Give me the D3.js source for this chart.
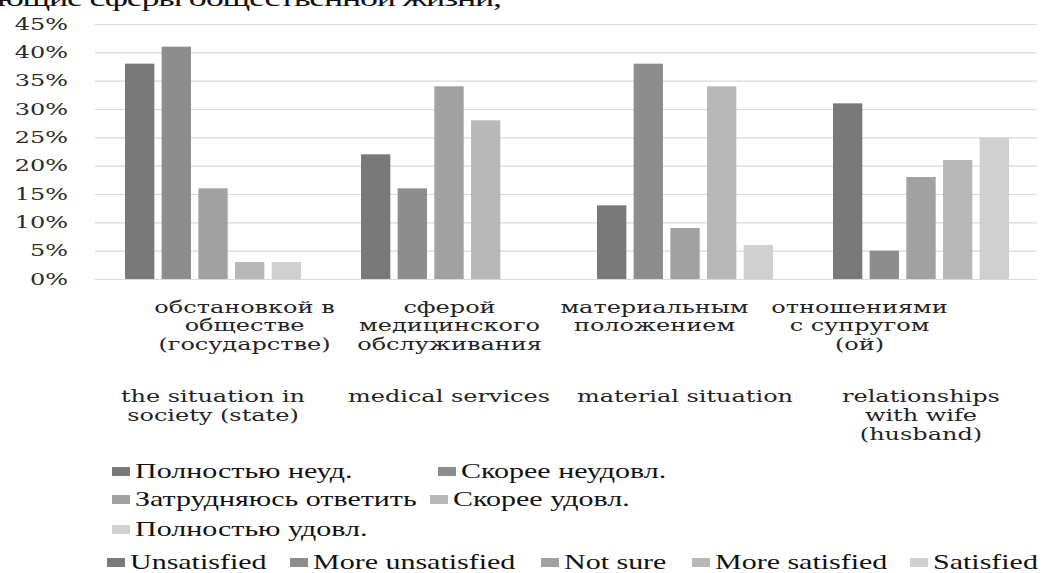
<!DOCTYPE html>
<html>
<head>
<meta charset="utf-8">
<script src="https://cdnjs.cloudflare.com/ajax/libs/d3/7.8.5/d3.min.js"></script>
<style>
  body { margin: 0; background: #fff; }
  svg { display: block; }
</style>
</head>
<body>
<div class="chart"></div>
<script>
// ---- data ----
var categoriesRu = [
  ["обстановкой в", "обществе", "(государстве)"],
  ["сферой", "медицинского", "обслуживания"],
  ["материальным", "положением"],
  ["отношениями", "с супругом", "(ой)"]
];
var categoriesEn = [
  ["the situation in", "society (state)"],
  ["medical services"],
  ["material situation"],
  ["relationships", "with wife", "(husband)"]
];
var seriesRu = ["Полностью неуд.", "Скорее неудовл.", "Затрудняюсь ответить", "Скорее удовл.", "Полностью удовл."];
var seriesEn = ["Unsatisfied", "More unsatisfied", "Not sure", "More satisfied", "Satisfied"];

var unsatisfied = [38, 22, 13, 31];
var moreUnsatisfied = [41, 16, 38, 5];
var notSure = [16, 34, 9, 18];
var moreSatisfied = [3, 28, 34, 21];
var satisfied = [3, 0, 6, 25];

var yTicks = [0, 5, 10, 15, 20, 25, 30, 35, 40, 45];
var headerText = "ющие сферы общественной жизни,";

var series = [unsatisfied, moreUnsatisfied, notSure, moreSatisfied, satisfied];
var colors = ["#797979", "#8d8d8d", "#a1a1a1", "#b8b8b8", "#d0d0d0"];

// the picture is stretched sideways, so draw in a narrow box and let the viewBox widen it
var svgWidth = 1045;
var svgHeight = 573;
var SX = 1.5;

var svg = d3.select(".chart")
  .append("svg")
  .attr("width", svgWidth)
  .attr("height", svgHeight)
  .attr("viewBox", `0 0 ${svgWidth / SX} ${svgHeight}`)
  .attr("preserveAspectRatio", "none");

// scales
var x0 = d3.scaleBand()
  .domain(d3.range(categoriesEn.length))
  .range([95 / SX, 1039 / SX]);

var x1 = d3.scaleBand()
  .domain(d3.range(series.length))
  .range([0, x0.bandwidth()])
  .paddingInner(0.2)
  .paddingOuter(0.818);

// russian labels sit a bit off the bands in the original
var xRu = d3.scaleBand()
  .domain(d3.range(categoriesRu.length))
  .range([142 / SX, 962 / SX]);

var y = d3.scaleLinear()
  .domain([0, 45])
  .range([279, 24]);

// cut off line of text above the chart
svg.append("text")
  .attr("x", -3 / SX)
  .attr("y", 6)
  .attr("textLength", 505 / SX)
  .attr("lengthAdjust", "spacing")
  .style("font-family", "'Liberation Serif', serif")
  .style("font-size", "24px")
  .style("fill", "#111")
  .text(headerText);

// y axis with gridlines
var yAxis = svg.append("g")
  .attr("transform", `translate(${95 / SX}, 0)`)
  .call(d3.axisLeft(y)
    .tickValues(yTicks)
    .tickSize(-(1037 - 95) / SX)
    .tickPadding(18)
    .tickFormat(d => d + "%"));

yAxis.select(".domain").remove();
yAxis.selectAll(".tick line")
  .attr("stroke", "#d9d9d9")
  .attr("stroke-width", 1.2);
yAxis.selectAll(".tick text")
  .style("font-family", "'DejaVu Serif', serif")
  .style("font-size", "16px")
  .style("fill", "#2a2a2a");

// bars
var groups = svg.selectAll(".cat")
  .data(categoriesEn)
  .enter()
  .append("g")
  .attr("class", "cat")
  .attr("transform", (d, i) => `translate(${x0(i)}, 0)`);

groups.selectAll("rect")
  .data((d, i) => series.map((s, j) => ({ s: j, v: s[i] })))
  .enter()
  .append("rect")
  .attr("x", d => x1(d.s))
  .attr("width", x1.bandwidth())
  .attr("y", d => y(d.v))
  .attr("height", d => y(0) - y(d.v))
  .attr("fill", d => colors[d.s]);

// category labels, russian
var ruBase = [313, 331.5, 350];
categoriesRu.forEach(function (lines, i) {
  lines.forEach(function (line, k) {
    svg.append("text")
      .attr("x", xRu(i) + xRu.bandwidth() / 2)
      .attr("y", ruBase[k])
      .attr("text-anchor", "middle")
      .style("font-family", "'DejaVu Serif', serif")
      .style("font-size", "16px")
      .style("fill", "#222")
      .text(line);
  });
});

// category labels, english
var enBase = [402, 421, 440];
categoriesEn.forEach(function (lines, i) {
  lines.forEach(function (line, k) {
    svg.append("text")
      .attr("x", x0(i) + x0.bandwidth() / 2)
      .attr("y", enBase[k])
      .attr("text-anchor", "middle")
      .style("font-family", "'DejaVu Serif', serif")
      .style("font-size", "16px")
      .style("fill", "#222")
      .text(line);
  });
});

// legends
var legendItems = [
  // russian legend, three rows
  { i: 0, label: seriesRu[0], x: 112, base: 478 },
  { i: 1, label: seriesRu[1], x: 438, base: 478 },
  { i: 2, label: seriesRu[2], x: 112, base: 506 },
  { i: 3, label: seriesRu[3], x: 430, base: 506 },
  { i: 4, label: seriesRu[4], x: 112, base: 536 },
  // english legend, one row
  { i: 0, label: seriesEn[0], x: 107, base: 569 },
  { i: 1, label: seriesEn[1], x: 290, base: 569 },
  { i: 2, label: seriesEn[2], x: 541, base: 569 },
  { i: 3, label: seriesEn[3], x: 692, base: 569 },
  { i: 4, label: seriesEn[4], x: 910, base: 569 }
];

var legend = svg.selectAll(".legend")
  .data(legendItems)
  .enter()
  .append("g")
  .attr("class", "legend")
  .attr("transform", d => `translate(${d.x / SX}, ${d.base})`);

legend.append("rect")
  .attr("x", 0)
  .attr("y", -11)
  .attr("width", 12)
  .attr("height", 9)
  .attr("fill", d => colors[d.i]);

legend.append("text")
  .attr("x", 23 / SX)
  .attr("y", 0)
  .style("font-family", "'Liberation Serif', serif")
  .style("font-size", "20px")
  .style("fill", "#111")
  .text(d => d.label);
</script>
</body>
</html>
